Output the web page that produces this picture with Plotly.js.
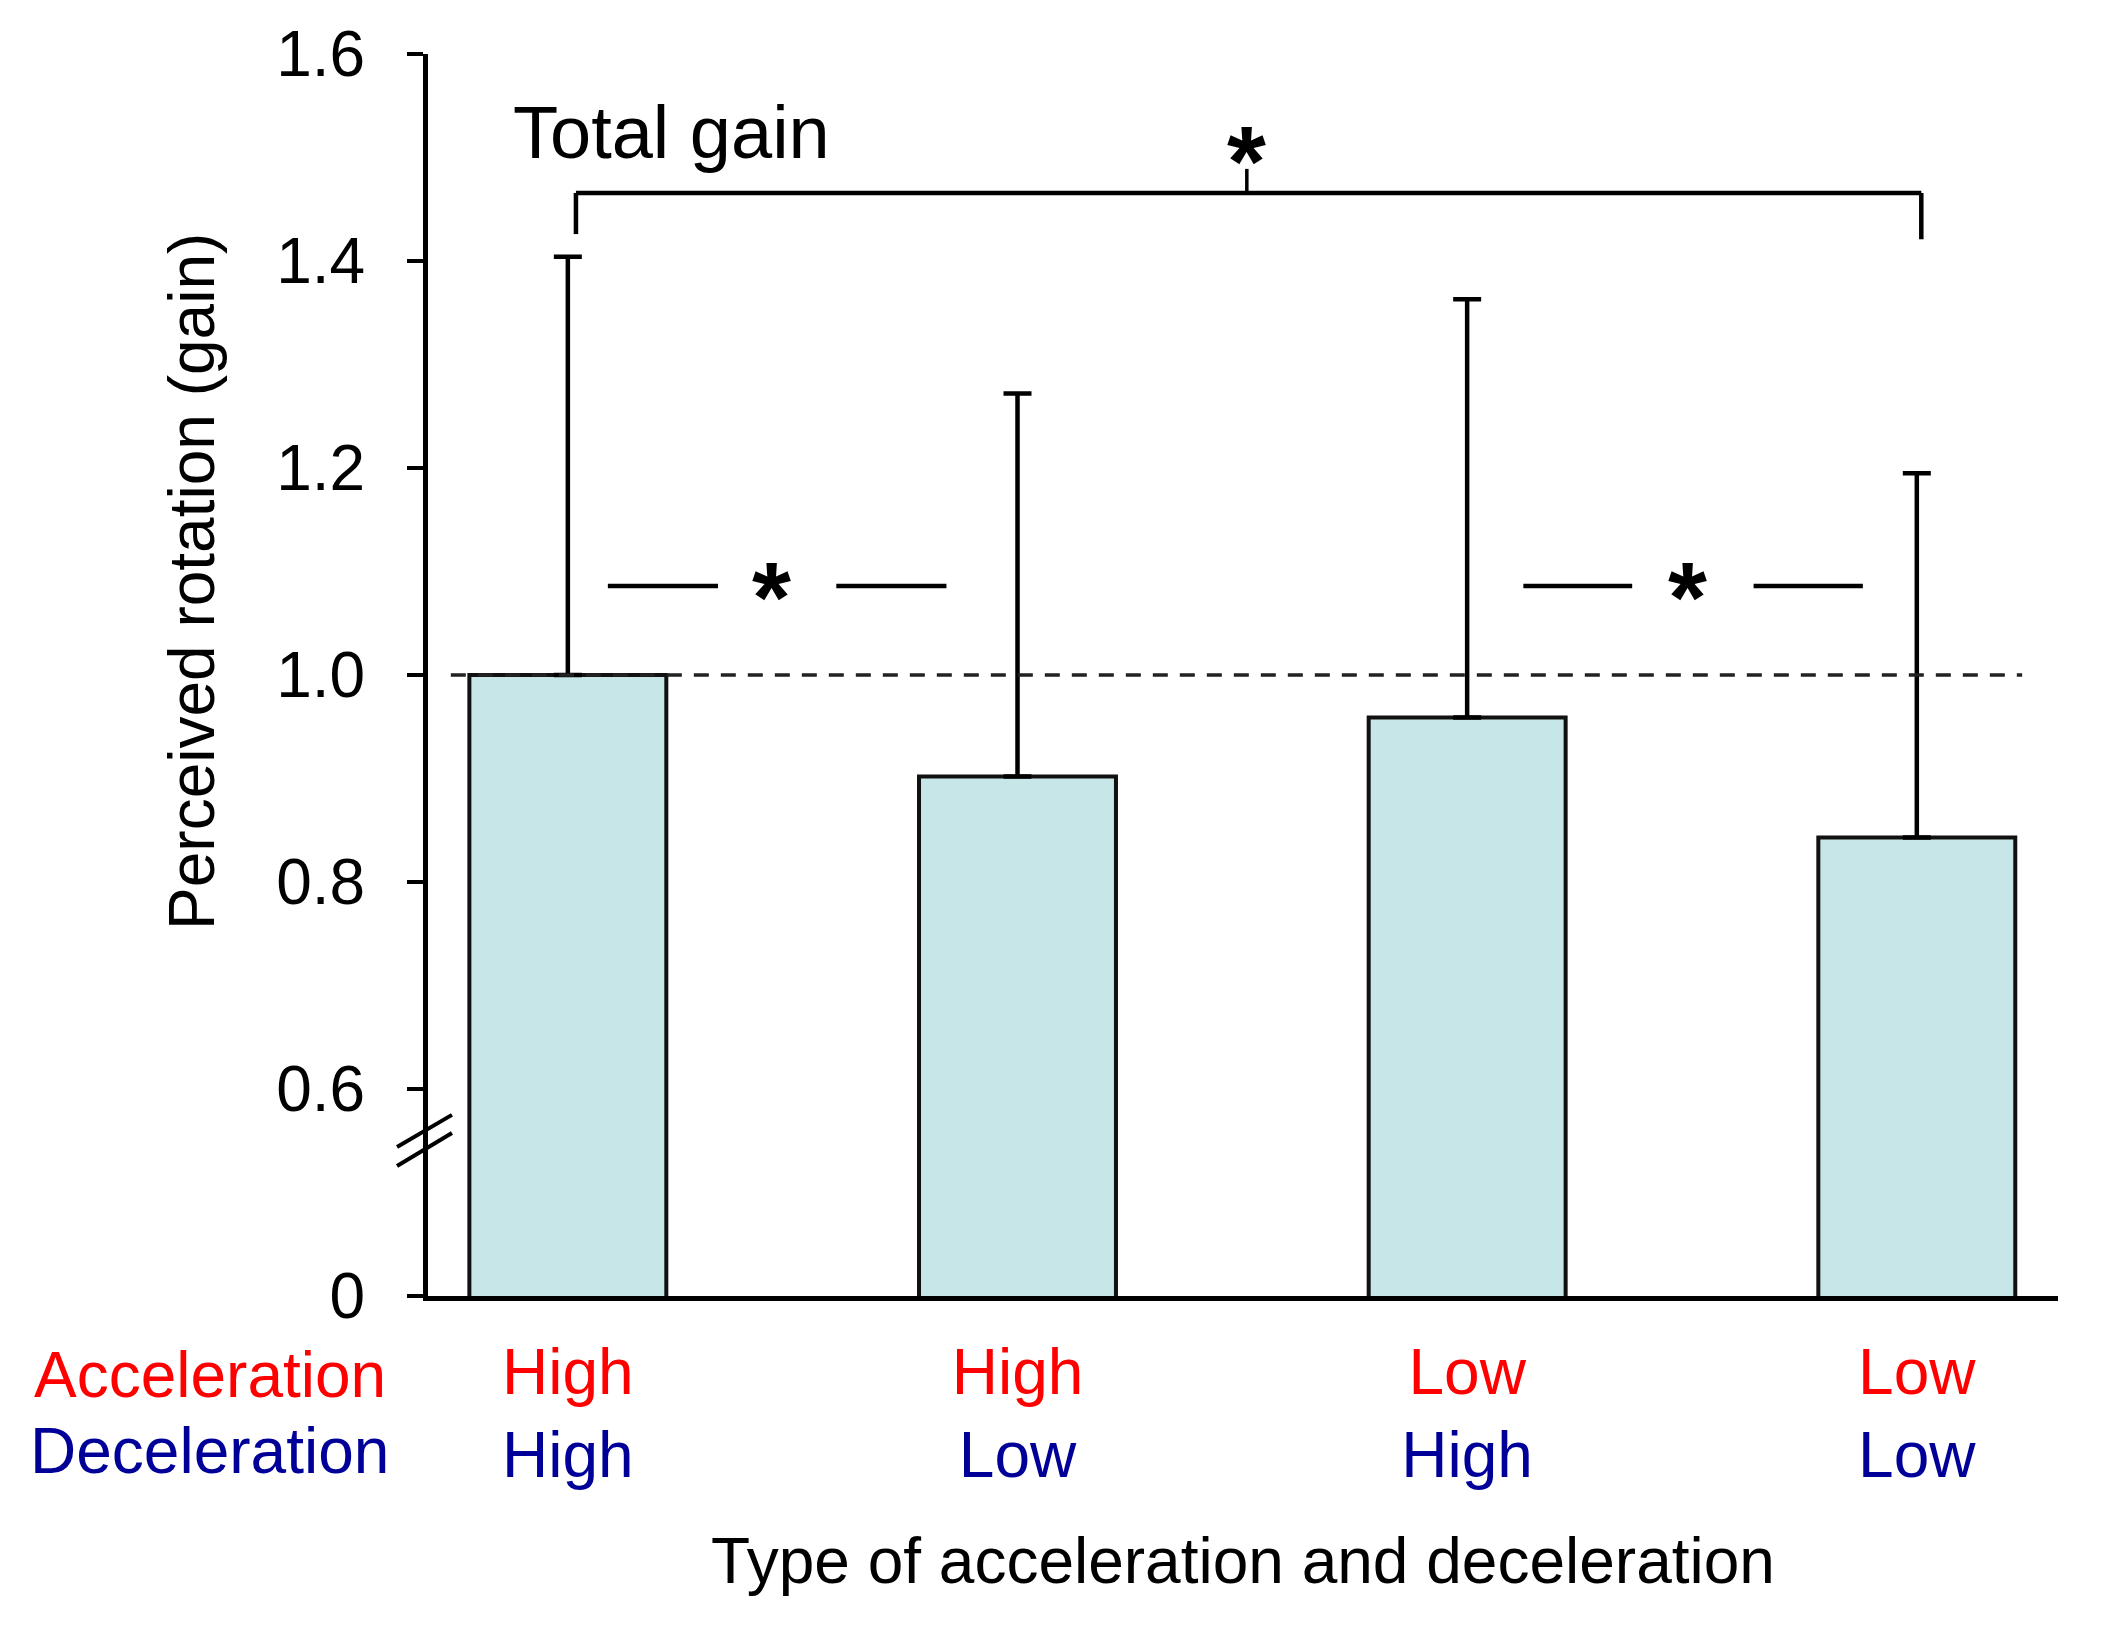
<!DOCTYPE html>
<html>
<head>
<meta charset="utf-8">
<script src="https://cdn.plot.ly/plotly-3.0.1.min.js"></script>
<style>html,body{margin:0;padding:0;background:#fff;}</style>
</head>
<body>
<div id="chart" style="width:2103px;height:1637px;"></div>
<script>
// ---- data ----
const accelLevels = ['High', 'High', 'Low', 'Low'];
const decelLevels = ['High', 'Low', 'High', 'Low'];
const meanGain = [1.00, 0.902, 0.959, 0.843];
const sdUpper = [0.404, 0.370, 0.404, 0.352];
const yTickVals = [0.4, 0.6, 0.8, 1.0, 1.2, 1.4, 1.6];
const yTickText = ['0', '0.6', '0.8', '1.0', '1.2', '1.4', '1.6'];
const rowLabels = ['Acceleration', 'Deceleration'];

const RED = '#ff0000', BLUE = '#000099';
const FONT = '"Liberation Sans", Arial, sans-serif';

const categories = accelLevels.map((a, i) => a + '/' + decelLevels[i]);
const tickText = accelLevels.map((a, i) =>
  '<span style="color:' + RED + '">' + a + '</span><br><span style="color:' + BLUE + '">' + decelLevels[i] + '</span>');

const trace = {
  type: 'bar',
  x: categories,
  y: meanGain,
  width: 0.438,
  marker: { color: '#c6e6e8', line: { color: '#111', width: 4 } },
  error_y: {
    type: 'data', symmetric: false,
    array: sdUpper, arrayminus: sdUpper.map(() => 0),
    color: '#000', thickness: 4.5, width: 14
  },
  hoverinfo: 'skip'
};

const lineStyle = { color: '#000', width: 4.5 };
const shapes = [
  // reference line at gain 1.0
  { type: 'line', xref: 'paper', yref: 'y', x0: 0.014, x1: 0.978, y0: 1.0, y1: 1.0,
    line: { color: '#222', width: 3.5, dash: '15px,12px' } },
  // axis break marks
  { type: 'line', xref: 'paper', yref: 'y', x0: -0.019, x1: 0.0147, y0: 0.544, y1: 0.575, line: { color: '#000', width: 4 } },
  { type: 'line', xref: 'paper', yref: 'y', x0: -0.019, x1: 0.0147, y0: 0.5256, y1: 0.5575, line: { color: '#000', width: 4 } },
  // total gain bracket
  { type: 'line', xref: 'x', yref: 'y', x0: 0.018, x1: 0.018, y0: 1.426, y1: 1.4657, line: lineStyle },
  { type: 'line', xref: 'x', yref: 'y', x0: 0.018, x1: 3.01, y0: 1.4657, y1: 1.4657, line: lineStyle },
  { type: 'line', xref: 'x', yref: 'y', x0: 3.01, x1: 3.01, y0: 1.421, y1: 1.4657, line: lineStyle },
  { type: 'line', xref: 'x', yref: 'y', x0: 1.51, x1: 1.51, y0: 1.4657, y1: 1.489, line: { color: '#000', width: 3.5 } },
  // pairwise comparisons
  { type: 'line', xref: 'x', yref: 'y', x0: 0.089, x1: 0.334, y0: 1.086, y1: 1.086, line: lineStyle },
  { type: 'line', xref: 'x', yref: 'y', x0: 0.597, x1: 0.842, y0: 1.086, y1: 1.086, line: lineStyle },
  { type: 'line', xref: 'x', yref: 'y', x0: 2.125, x1: 2.367, y0: 1.086, y1: 1.086, line: lineStyle },
  { type: 'line', xref: 'x', yref: 'y', x0: 2.637, x1: 2.880, y0: 1.086, y1: 1.086, line: lineStyle }
];

const starFont = { family: FONT, size: 100, color: '#000', weight: 'bold' };
const annotations = [
  { xref: 'paper', yref: 'paper', x: -0.1448, y: 0.5757, xanchor: 'center', yanchor: 'middle',
    text: 'Perceived rotation (gain)', textangle: -90,
    showarrow: false, font: { family: FONT, size: 64, color: '#000' } },
  { xref: 'paper', yref: 'paper', x: 0.051, y: 0.9364, xanchor: 'left', yanchor: 'middle', text: 'Total gain',
    showarrow: false, font: { family: FONT, size: 74, color: '#000' } },
  { xref: 'paper', yref: 'paper', x: -0.134, y: -0.0636, xanchor: 'center', yanchor: 'middle',
    text: rowLabels[0], showarrow: false, font: { family: FONT, size: 64, color: RED } },
  { xref: 'paper', yref: 'paper', x: -0.134, y: -0.1248, xanchor: 'center', yanchor: 'middle',
    text: rowLabels[1], showarrow: false, font: { family: FONT, size: 64, color: BLUE } },
  { xref: 'x', yref: 'y', x: 1.51, y: 1.4965, xanchor: 'center', yanchor: 'middle', text: '*', showarrow: false, font: starFont },
  { xref: 'x', yref: 'y', x: 0.454, y: 1.075, xanchor: 'center', yanchor: 'middle', text: '*', showarrow: false, font: starFont },
  { xref: 'x', yref: 'y', x: 2.49, y: 1.075, xanchor: 'center', yanchor: 'middle', text: '*', showarrow: false, font: starFont }
];

const layout = {
  width: 2103, height: 1637,
  margin: { l: 428, r: 45, t: 54, b: 341 },
  paper_bgcolor: '#fff', plot_bgcolor: '#fff',
  showlegend: false,
  font: { family: FONT, size: 64, color: '#000' },
  xaxis: {
    type: 'category',
    range: [-0.311, 3.314],
    tickmode: 'array', tickvals: categories, ticktext: tickText,
    showline: true, linecolor: '#000', linewidth: 5,
    ticks: '', showgrid: false, zeroline: false,
    ticklabelstandoff: 16,
    tickfont: { family: FONT, size: 64 },
    title: { text: 'Type of acceleration and deceleration', font: { family: FONT, size: 64, color: '#000' }, standoff: 50 }
  },
  yaxis: {
    range: [0.4, 1.6],
    tickmode: 'array', tickvals: yTickVals, ticktext: yTickText,
    showline: true, linecolor: '#000', linewidth: 5,
    ticks: 'outside', ticklen: 16, tickwidth: 4.5, tickcolor: '#000',
    showgrid: false, zeroline: false,
    ticklabelstandoff: 29,
    tickfont: { family: FONT, size: 64 }
  },
  shapes: shapes,
  annotations: annotations
};

Plotly.newPlot('chart', [trace], layout, { displayModeBar: false, staticPlot: true });
</script>
</body>
</html>
